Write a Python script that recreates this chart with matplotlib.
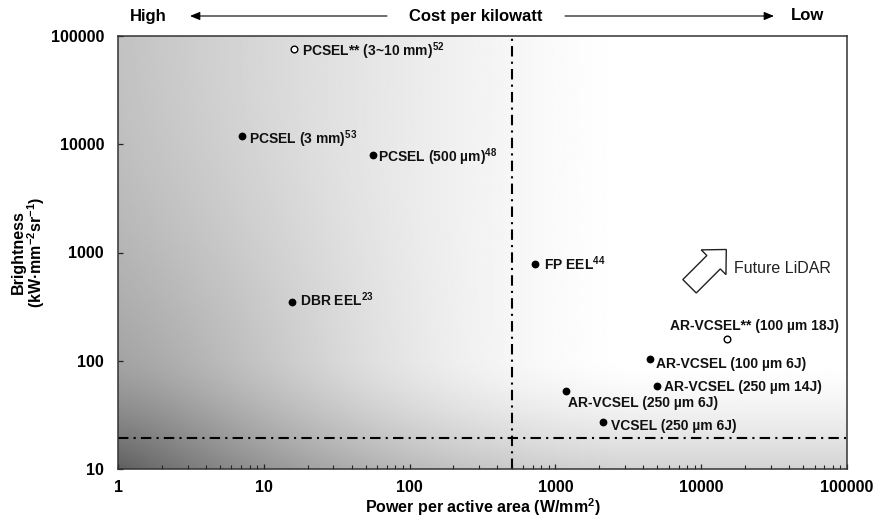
import numpy as np
import matplotlib
matplotlib.use("Agg")
import matplotlib.pyplot as plt
from matplotlib import transforms
from matplotlib.patches import Polygon, FancyArrowPatch

plt.rcParams['font.family'] = ['Liberation Sans', 'DejaVu Sans']
plt.rcParams['mathtext.fontset'] = 'custom'
plt.rcParams['mathtext.rm'] = 'Liberation Sans'
plt.rcParams['mathtext.bf'] = 'Liberation Sans:bold'
plt.rcParams['mathtext.default'] = 'bf'

# ---- data ---------------------------------------------------------------
devices = [
    "PCSEL** (3~10 mm)$^{52}$",
    "PCSEL (3 mm)$^{53}$",
    "PCSEL (500 µm)$^{48}$",
    "FP EEL$^{44}$",
    "DBR EEL$^{23}$",
    "AR-VCSEL** (100 µm 18J)",
    "AR-VCSEL (100 µm 6J)",
    "AR-VCSEL (250 µm 14J)",
    "AR-VCSEL (250 µm 6J)",
    "VCSEL (250 µm 6J)",
]
power_density = [16.2, 7.1, 56, 725, 15.5, 15000, 4450, 4950, 1180, 2130]   # W/mm^2
brightness = [76000, 12000, 7950, 780, 347, 158, 104, 59, 53, 27.4]         # kW mm^-2 sr^-1
projected = [True, False, False, False, False, True, False, False, False, False]

power_threshold = 500
brightness_threshold = 19.3

x_ticks = [1, 10, 100, 1000, 10000, 100000]
x_tick_labels = ["1", "10", "100", "1000", "10000", "100000"]
y_ticks = [10, 100, 1000, 10000, 100000]
y_tick_labels = ["10", "100", "1000", "10000", "100000"]

# label placement (pixel offsets from each marker)
label_offsets = [(8, -7), (7, -8), (5, -7), (9, -6), (8, -4),
                 (-57, 9), (6, -9), (7, -5), (2, -16), (8, -8)]

# ---- figure ---------------------------------------------------------------
fig = plt.figure(figsize=(8.74, 5.2), dpi=100)
ax = fig.add_axes([118 / 874, 1 - 469 / 520, 729 / 874, 433 / 520])
ax.set_xscale("log")
ax.set_yscale("log")
ax.set_xlim(1, 100000)
ax.set_ylim(10, 100000)

# shaded background, darkest toward the low-power / low-brightness corner
nx, ny = 400, 240
u = np.linspace(0, 1, nx)[None, :]
v = np.linspace(0, 1, ny)[:, None]
left = 0.24 * np.clip(1 - u / 0.7, 0, None) ** 1.3
bottom = 0.17 * np.clip(1 - v / 0.25, 0, None) ** 1.5
r = np.sqrt((u * 729) ** 2 + (v * 433) ** 2) / 433
corner = 0.21 * np.clip(1 - r / 1.0, 0, None) ** 2
shade = np.clip(1 - left - bottom - corner, 0, 1)
ax.imshow(shade, cmap="gray", vmin=0, vmax=1, origin="lower",
          extent=[0, 1, 0, 1], transform=ax.transAxes, aspect="auto",
          interpolation="bilinear", zorder=0)

dash = (0, (5, 2.5, 1, 2.5))
ax.axvline(power_threshold, color="black", lw=1.5, linestyle=dash, zorder=2)
ax.axhline(brightness_threshold, color="black", lw=1.5, linestyle=dash, zorder=2)

for name, px, by, hollow, (dx, dy) in zip(devices, power_density, brightness,
                                           projected, label_offsets):
    ax.plot(px, by, "o", ms=4.6 if not hollow else 4.8,
            mfc="white" if hollow else "black", mec="black",
            mew=1.0, zorder=4)
    ax.annotate(name, (px, by), xytext=(dx, dy), textcoords="offset pixels",
                ha="left", va="baseline", fontsize=10, fontweight="bold",
                color="#111111", zorder=5)

# hollow block arrow pointing up-right
L, shaft_w, head_w, head_l = 52, 19, 35, 18
pts = np.array([
    [0, -shaft_w / 2], [L - head_l, -shaft_w / 2], [L - head_l, -head_w / 2],
    [L, 0], [L - head_l, head_w / 2], [L - head_l, shaft_w / 2], [0, shaft_w / 2],
])
ang = np.deg2rad(45)
rot = np.array([[np.cos(ang), -np.sin(ang)], [np.sin(ang), np.cos(ang)]])
pts = pts @ rot.T / 100.0
arrow_tr = fig.dpi_scale_trans + transforms.ScaledTranslation(0.784, 0.422, ax.transAxes)
ax.add_patch(Polygon(pts, closed=True, transform=arrow_tr, facecolor="white",
                     edgecolor="#222222", lw=1.0, zorder=5))
ax.text(0.845, 0.462, "Future LiDAR", transform=ax.transAxes, ha="left",
        va="center", fontsize=11.5, color="#222222", zorder=5)

# axes styling
ax.set_xticks(x_ticks)
ax.set_xticklabels(x_tick_labels)
ax.set_yticks(y_ticks)
ax.set_yticklabels(y_tick_labels)
ax.yaxis.set_minor_locator(matplotlib.ticker.NullLocator())
ax.tick_params(axis="both", which="major", direction="in", length=3.6,
               width=0.9, labelsize=11.5, color="#222222")
ax.tick_params(axis="x", which="minor", direction="in", length=2.7, width=0.8,
               color="#222222")
ax.tick_params(axis="x", which="major", pad=8)
ax.tick_params(axis="y", which="major", pad=10)
for lab in ax.get_xticklabels() + ax.get_yticklabels():
    lab.set_fontweight("bold")
for sp in ax.spines.values():
    sp.set_color("#333333")
    sp.set_linewidth(1.1)

ax.set_xlabel("Power per active area (W/mm$^{2}$)", fontsize=11.5,
              fontweight="bold", labelpad=1)
fig.text(0.033, 0.515, "Brightness\n(kW·mm$^{-2}$sr$^{-1}$)", rotation=90,
         ha="center", va="center", fontsize=11.5, fontweight="bold",
         linespacing=1.0)

# cost header
hy = 1 - 16 / 520
fig.text(148 / 874, hy, "High", ha="center", va="center", fontsize=12, fontweight="bold")
fig.text(476 / 874, hy, "Cost per kilowatt", ha="center", va="center", fontsize=12,
         fontweight="bold")
fig.text(807 / 874, hy, "Low", ha="center", va="center", fontsize=12, fontweight="bold")
arr = dict(arrowstyle="-|>,head_length=0.6,head_width=0.25", color="black", lw=0.8,
           shrinkA=0, shrinkB=0, mutation_scale=10)
fig.add_artist(FancyArrowPatch((387 / 874, hy), (190 / 874, hy),
                               transform=fig.transFigure, **arr))
fig.add_artist(FancyArrowPatch((565 / 874, hy), (774 / 874, hy),
                               transform=fig.transFigure, **arr))

fig.savefig("out.png", dpi=100)
